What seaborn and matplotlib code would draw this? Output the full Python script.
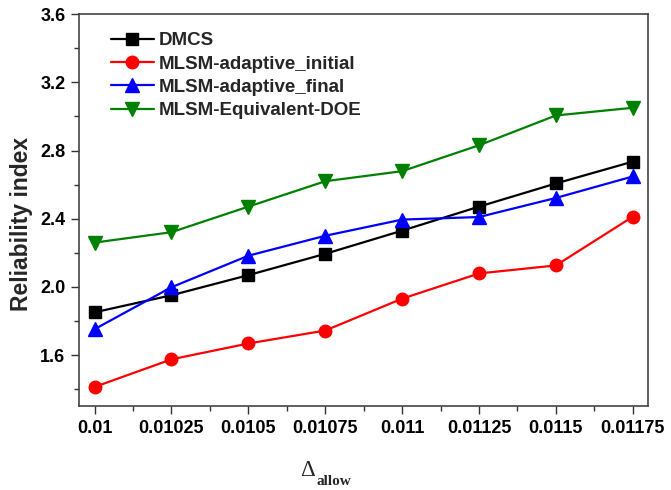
import matplotlib
matplotlib.use("Agg")
import matplotlib.pyplot as plt
import seaborn as sns
import pandas as pd
from matplotlib.ticker import MultipleLocator, FixedLocator

delta_allow = [0.01, 0.01025, 0.0105, 0.01075, 0.011, 0.01125, 0.0115, 0.01175]
tick_labels = ["0.01", "0.01025", "0.0105", "0.01075", "0.011", "0.01125", "0.0115", "0.01175"]
dmcs = [1.851, 1.951, 2.069, 2.194, 2.330, 2.471, 2.607, 2.735]
mlsm_initial = [1.413, 1.575, 1.668, 1.744, 1.931, 2.079, 2.126, 2.412]
mlsm_final = [1.752, 1.998, 2.183, 2.300, 2.395, 2.410, 2.522, 2.648]
mlsm_doe = [2.260, 2.321, 2.471, 2.620, 2.679, 2.831, 3.006, 3.051]

series = [
    ("DMCS", dmcs, "black", "s", 8),
    ("MLSM-adaptive_initial", mlsm_initial, "red", "o", 9),
    ("MLSM-adaptive_final", mlsm_final, "blue", "^", 9.5),
    ("MLSM-Equivalent-DOE", mlsm_doe, "green", "v", 9.5),
]

sns.set_style("ticks")
plt.rcParams["font.family"] = ["Liberation Sans", "DejaVu Sans"]
plt.rcParams["font.weight"] = "bold"

fig = plt.figure(figsize=(6.71, 4.90), dpi=100)
ax = fig.add_axes([0.118, 0.171, 0.848, 0.800])

for name, vals, color, marker, ms in series:
    df = pd.DataFrame({"x": delta_allow, "y": vals})
    sns.lineplot(data=df, x="x", y="y", ax=ax, color=color, marker=marker,
                 markersize=ms, markeredgecolor=color, markeredgewidth=1,
                 linewidth=1.6, label=name)

ax.set_xlim(0.00995, 0.0118)
ax.set_ylim(1.3, 3.6)
ax.xaxis.set_major_locator(FixedLocator(delta_allow))
ax.set_xticklabels(tick_labels)
ax.xaxis.set_minor_locator(MultipleLocator(0.000125))
ax.yaxis.set_major_locator(MultipleLocator(0.4))
ax.yaxis.set_minor_locator(MultipleLocator(0.2))
ax.tick_params(axis="both", which="major", direction="out", length=6, width=1,
               labelsize=13, colors="#333333", labelcolor="black", pad=4)
ax.tick_params(axis="both", which="minor", direction="out", length=3.5, width=1,
               colors="#333333")
for lab in ax.get_xticklabels() + ax.get_yticklabels():
    lab.set_fontweight("bold")
for sp in ax.spines.values():
    sp.set_visible(True)
    sp.set_color("#444444")
    sp.set_linewidth(1.2)

ax.set_xlabel("")
ax.set_ylabel("Reliability index", fontsize=16.5, fontweight="bold")
ax.yaxis.set_label_coords(-0.082, 0.464)

leg = ax.legend(loc="upper left", bbox_to_anchor=(0.036, 0.983), frameon=False,
                prop={"size": 13.5, "weight": "bold"}, handlelength=2.3,
                handletextpad=0.27, labelspacing=0.33, borderaxespad=0.2)

fig.text(0.447, 0.029, "Δ", fontsize=16.5, family=["Liberation Serif", "DejaVu Serif"],
         ha="left", va="baseline", fontweight="normal")
fig.text(0.472, 0.010, "allow", fontsize=11, family=["Liberation Serif", "DejaVu Serif"],
         ha="left", va="baseline", fontweight="bold")

fig.savefig("out.png", dpi=100)
